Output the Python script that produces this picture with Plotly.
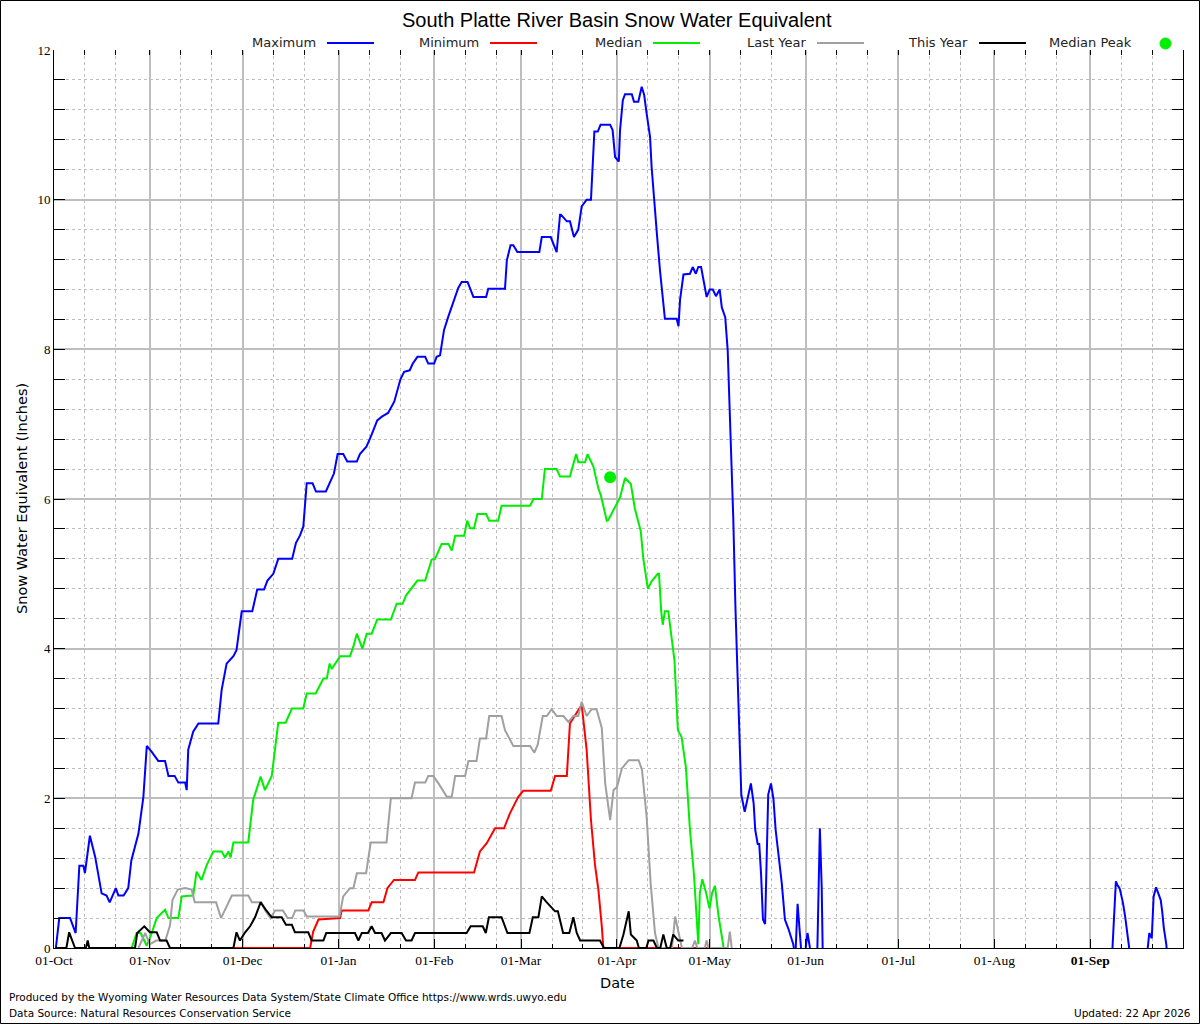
import plotly.graph_objects as go
import pandas as pd

# ---------------- data (day offsets from 01-Oct, SWE inches) ----------------
SEASON_START = "2025-10-01"
SEASON_END = "2026-10-01"

max_days = [0.6, 1.7, 5.2, 7, 8.2, 9.5, 10, 11.6, 13.3, 15.4, 17, 18, 20, 20.8, 22.5, 24, 25, 27.3, 28.9, 30,
            31.6, 33.7, 35.9, 37, 39, 40.2, 42.4, 42.9, 43.4, 45, 46.7, 53.1, 54.2, 55.8, 58, 59, 60.7, 64.1,
            65.7, 67.9, 69, 70.9, 72.5, 77, 78.2, 79.5, 80.6, 81.7, 83.6, 84.7, 87.9, 89, 90.5, 91.7, 93.5,
            94.8, 97.9, 98.9, 101, 102.4, 103.2, 104.5, 106, 108, 110, 112, 113.2, 115, 116, 117.5, 120, 121,
            122.9, 123.7, 124.8, 126.1, 127.5, 129.3, 130.7, 131.8, 133.7, 135.6, 139.7, 140.4, 145.8, 146.4,
            147.6, 148.5, 149.8, 156.9, 157.7, 160.6, 162.5, 163.6, 163.9, 165.8, 166.8, 168.1, 169.5, 170.6,
            172.2, 173.6, 174.2, 174.7, 175.8, 176.7, 179.8, 180.6, 181.4, 182.6, 183, 183.9, 184.6, 186.8,
            187.5, 188.9, 190, 190.8, 191.6, 192.7, 193.2, 194, 195, 195.9, 197, 197.5, 201.3, 201.9, 202.4,
            203.5, 205.6, 206.5, 207.5, 208.3, 209.2, 211, 212, 213, 214, 215.2, 215.9, 217, 217.8, 218.7,
            219.6, 220.3, 221.2, 221.7, 222.2, 223.3, 224.3, 225.3, 226.2, 226.7, 227.5, 228, 228.6, 229.2,
            229.9, 230.4, 230.9, 231.8, 232.6, 233.3, 234.2, 235.3, 236.3, 237.4, 239, 239.2,
            239.5, 239.8, 240.4, 241.5,
            242.2, 243.0, 243.6, 244.4,
            245.5, 246.8, 247.1, 247.6, 248.2, 248.5,
            300, 342.2, 342.5, 342.8, 343.3, 343.8, 344.5, 344.9, 345.6, 346.3, 346.9, 347.4, 347.6,
            350, 353.6, 353.9, 354.1, 354.9, 355.5, 356.3, 356.9, 357.8, 358.3, 358.8, 359.6, 359.7]
max_vals = [0, 0.4, 0.4, 0.2, 1.1, 1.1, 1.0, 1.5, 1.22, 0.73, 0.7, 0.61, 0.8, 0.7, 0.7, 0.8, 1.17, 1.53, 2.02, 2.7,
            2.62, 2.5, 2.5, 2.3, 2.3, 2.21, 2.21, 2.11, 2.65, 2.89, 3.0, 3.0, 3.45, 3.8, 3.9, 3.98, 4.5, 4.5,
            4.79, 4.79, 4.91, 5.0, 5.2, 5.2, 5.41, 5.51, 5.63, 6.21, 6.21, 6.1, 6.1, 6.21, 6.34, 6.6, 6.6,
            6.5, 6.5, 6.6, 6.7, 6.83, 6.92, 7.05, 7.1, 7.15, 7.3, 7.6, 7.7, 7.72, 7.81, 7.9, 7.9, 7.81,
            7.81, 7.9, 7.92, 8.26, 8.44, 8.66, 8.82, 8.9, 8.9, 8.7, 8.7, 8.81, 8.81, 9.19,
            9.39, 9.39, 9.3, 9.3, 9.5, 9.5, 9.3, 9.8, 9.8, 9.71, 9.71, 9.5, 9.6, 9.91,
            10.0, 10.0, 10.46, 10.91, 10.91, 11.0, 11.0, 10.93, 10.57, 10.51, 10.93, 11.33, 11.41, 11.41,
            11.31, 11.31, 11.51, 11.4, 11.15, 10.84, 10.44, 9.96, 9.5, 9.06, 8.66, 8.41, 8.41, 8.31, 8.66,
            9.0, 9.01, 9.1, 9.01, 9.1, 9.1, 8.7, 8.8, 8.8, 8.71, 8.8, 8.56, 8.43, 7.99, 6.94,
            5.75, 4.56, 3.36, 2.41, 2.05, 1.82, 1.99, 2.2, 1.93, 1.58, 1.39, 1.39, 0.98, 0.38,
            0.32, 1.22, 2.05, 2.2, 1.99, 1.58, 1.27, 0.86, 0.38, 0.26, 0.05, 0,
            None, 0, 0.59, 0,
            None, 0, 0.2, 0,
            None, 0, 0.8, 1.6, 0.8, 0,
            None, 0, 0.2, 0.46, 0.89, 0.84, 0.8, 0.73, 0.6, 0.42, 0.24, 0.06, 0,
            None, 0, 0.18, 0.2, 0.13, 0.69, 0.81, 0.75, 0.64, 0.48, 0.27, 0.05, 0]

min_days = [58, 82.8, 83.8, 85.5, 92.5, 93, 101.6, 102.7, 106.5, 107.8, 109.9, 116.7, 117.8, 135.8, 137.7,
            139.9, 142.6, 145.5, 147.4, 150.1, 151.7, 160.6, 162, 165.8, 166.8, 170.6, 172.2, 173.6, 174.9,
            176, 177.1, 177.6, 214]
min_vals = [0, 0, 0.22, 0.38, 0.4, 0.5, 0.5, 0.61, 0.61, 0.8, 0.91, 0.91, 1.01, 1.01, 1.29,
            1.4, 1.6, 1.6, 1.8, 2.02, 2.1, 2.1, 2.3, 2.3, 3.0, 3.25, 2.65, 1.71, 1.11,
            0.78, 0.29, 0, 0]

med_days = [25.1, 26.7, 28, 30, 31.6, 33.2, 35.9, 37, 40.2, 41.3, 45, 46.1, 47.7, 49.4, 51.5, 54.2, 55.3, 56.4,
            57.1, 58, 62.8, 64.4, 66.8, 68.2, 70.4, 72.5, 74.9, 76.9, 80.6, 81.7, 84.6, 87.1, 88.2, 89.1,
            89.8, 90.8, 92.5, 95.7, 96.8, 97.9, 99.7, 101.1, 102.7, 104.5, 108.9, 110.8, 112.7, 113.8, 115.6,
            117.5, 120, 122.1, 123.2, 125.3, 127.5, 128.6, 129.7, 132.6, 133.6, 134.5, 135.8, 136.9, 139.7,
            140.7, 143.6, 144.7, 153.9, 155, 157.7, 158.7, 162.5, 163.6, 166.8, 168.8, 169.5, 171.7, 172.5,
            174.4, 176, 176.8, 178.7, 179.2, 183, 184.6, 186.5, 187.8, 189.7, 190.5, 192, 193.2, 195.2,
            195.6, 196.3, 196.8, 197.5, 198.6, 199.5, 200.6, 201.7, 202.9, 204.3, 205.6, 206.9, 207.8,
            208.3, 208.8, 209.6, 210.8, 211.9, 212.8, 213.7, 214.8, 215.9, 216.5]
med_vals = [0, 0.2, 0.2, 0.03, 0.2, 0.4, 0.51, 0.4, 0.4, 0.69, 0.7, 1.02, 0.91, 1.11, 1.29, 1.29, 1.21, 1.29,
            1.21, 1.41, 1.41, 1.98, 2.29, 2.11, 2.3, 3.01, 3.01, 3.2, 3.2, 3.4, 3.4, 3.6, 3.6, 3.8,
            3.73, 3.8, 3.9, 3.9, 4.03, 4.2, 4.0, 4.2, 4.2, 4.39, 4.39, 4.6, 4.6, 4.71, 4.81,
            4.91, 4.91, 5.19, 5.2, 5.4, 5.4, 5.31, 5.51, 5.51, 5.71, 5.61, 5.61, 5.8, 5.8,
            5.71, 5.71, 5.91, 5.91, 6.0, 6.0, 6.4, 6.4, 6.3, 6.3, 6.6, 6.49, 6.49, 6.6,
            6.43, 6.14, 6.05, 5.71, 5.72, 6.02, 6.28, 6.2, 5.87, 5.57, 5.21, 4.8, 4.9, 5.0,
            5.0, 4.5, 4.32, 4.5, 4.5, 4.2, 3.84, 2.91, 2.82, 2.41, 1.58, 0.98, 0.41,
            0.05, 0.74, 0.92, 0.74, 0.53, 0.74, 0.83, 0.44, 0.17, 0]

last_days = [27.3, 29.5, 31, 33, 36, 37.5, 38.3, 40, 42.4, 44.5, 45.5, 52.4, 54, 56.4, 57.5, 62.8, 64, 67, 68.3,
             70, 71.5, 74, 75.5, 77, 78, 80.7, 81.7, 92.3, 93.5, 95.7, 96.8, 97.9, 100.9, 102.4, 107.5, 108.9,
             115.6, 116.7, 120, 121, 122.6, 124.3, 127, 128.6, 129.7, 132.9, 134, 136.6, 137.7, 139.7, 140.7,
             144.7, 145.8, 148.5, 153.9, 155.3, 156.4, 158, 159.3, 160.9, 162.5, 164.7, 166.3, 167.9, 169.5,
             170.6, 172.2, 173.8, 175.4, 177.1, 178.2, 179.8, 180.9, 182, 183.6, 185.8, 189, 190.1, 191.6,
             192.9, 194.3, 195.4, 199.8, 200.8, 202.4, 203, 206.3, 207.2, 208, 210.4, 211, 211.6, 217.8,
             218.5, 219.1]
last_vals = [0, 0.2, 0.05, 0.1, 0.1, 0.3, 0.64, 0.78, 0.8, 0.78, 0.61, 0.61, 0.4, 0.6, 0.7, 0.7, 0.61, 0.61, 0.5,
             0.4, 0.5, 0.5, 0.4, 0.4, 0.5, 0.5, 0.42, 0.42, 0.69, 0.8, 0.8, 1.0, 1.0, 1.41, 1.41, 2.0,
             2.0, 2.21, 2.21, 2.3, 2.3, 2.2, 2.02, 2.02, 2.3, 2.3, 2.5, 2.5, 2.8, 2.8, 3.1,
             3.1, 2.91, 2.7, 2.7, 2.61, 2.72, 3.1, 3.1, 3.19, 3.1, 3.1, 3.02, 3.1, 3.1,
             3.29, 3.1, 3.19, 3.19, 2.94, 2.2, 1.71, 2.11, 2.15, 2.4, 2.51, 2.51, 2.38, 1.75,
             0.86, 0.2, 0, 0, 0.42, 0.1, 0, 0, 0.1, 0, 0, 0.1, 0, 0,
             0.22, 0]

this_days = [0.6, 4, 4.9, 6.8, 10.3, 10.9, 11.4, 26.2, 26.9, 29.2, 31, 33.2, 34.3, 36.4, 37.5, 58, 59, 60.1,
             61.8, 63.4, 65, 66.8, 68.5, 70.4, 73.6, 75, 76.9, 77.9, 82.2, 83.3, 87.1, 88, 97.3, 98.4, 99.5,
             101.5, 102.7, 103.8, 105.9, 107, 108.9, 112.4, 113.8, 115.6, 116.7, 133.4, 134.7, 138.6, 139.6,
             140.6, 144.7, 146.6, 153.7, 154.8, 156.6, 157.7, 159.1, 160.5, 162, 162.9, 164.6, 166.6, 167.9,
             169, 170.1, 176.5, 177.8, 182.8, 184.1, 185.8, 186.5, 188.4, 189.1, 191.5, 192.2, 193.8, 194.9,
             196, 197, 198.1, 199.2, 200.2, 201.8, 203.5]
this_vals = [0, 0, 0.21, 0, 0, 0.1, 0, 0, 0.2, 0.29, 0.21, 0.21, 0.1, 0.1, 0, 0, 0.21, 0.1,
             0.21, 0.29, 0.41, 0.61, 0.51, 0.41, 0.41, 0.31, 0.31, 0.21, 0.21, 0.1, 0.1, 0.2, 0.2, 0.1, 0.2,
             0.2, 0.29, 0.2, 0.2, 0.1, 0.2, 0.2, 0.1, 0.1, 0.2, 0.2, 0.29, 0.29, 0.2,
             0.41, 0.41, 0.2, 0.2, 0.41, 0.41, 0.69, 0.62, 0.55, 0.49, 0.49, 0.2, 0.2, 0.41,
             0.2, 0.1, 0.1, 0, 0, 0.18, 0.49, 0.18, 0.1, 0, 0, 0.1, 0.1, 0,
             0, 0.18, 0, 0, 0.18, 0.1, 0.1]

peak_day = [179.8]
peak_val = [6.29]

month_ticks = ["2025-10-01", "2025-11-01", "2025-12-01", "2026-01-01", "2026-02-01", "2026-03-01",
               "2026-04-01", "2026-05-01", "2026-06-01", "2026-07-01", "2026-08-01", "2026-09-01"]
month_labels = ["01-Oct", "01-Nov", "01-Dec", "01-Jan", "01-Feb", "01-Mar",
                "01-Apr", "01-May", "01-Jun", "01-Jul", "01-Aug", "<b>01-Sep</b>"]
y_ticks = [0, 2, 4, 6, 8, 10, 12]

series_names = ["Maximum", "Minimum", "Median", "Last Year", "This Year"]
series_colors = ["#0000ff", "#ff0000", "#00ee00", "#a0a0a0", "#000000"]
peak_color = "#00ee00"

# ---------------- helpers ----------------
start = pd.Timestamp(SEASON_START)


def to_dates(days):
    return [start + pd.Timedelta(days=d) for d in days]


minor_ticks = []
for m in month_ticks:
    t = pd.Timestamp(m)
    minor_ticks += [t + pd.Timedelta(days=10), t + pd.Timedelta(days=20)]

# plot-area pixel geometry (for layout decorations)
L, R, T, B = 54, 1183, 50, 948


def px(x):
    return (x - L) / (R - L)


def py(y):
    return (B - y) / (B - T)


fig = go.Figure()
all_days = [max_days, min_days, med_days, last_days, this_days]
all_vals = [max_vals, min_vals, med_vals, last_vals, this_vals]
for name, color, d, v in zip(series_names, series_colors, all_days, all_vals):
    fig.add_trace(go.Scatter(x=to_dates(d), y=v, mode="lines", name=name,
                             line=dict(color=color, width=2), connectgaps=False,
                             showlegend=False))
fig.add_trace(go.Scatter(x=to_dates(peak_day), y=peak_val, mode="markers", name="Median Peak",
                         marker=dict(color=peak_color, size=12), showlegend=False))
# helper trace for top mirrored ticks
fig.add_trace(go.Scatter(x=[start], y=[None], xaxis="x2", showlegend=False, hoverinfo="skip"))

grid_col = "#bebebe"
fig.update_layout(
    width=1200, height=1024,
    margin=dict(l=L, r=1200 - R, t=T, b=1024 - B),
    paper_bgcolor="white", plot_bgcolor="white",
    showlegend=False,
    xaxis=dict(type="date", range=[SEASON_START, SEASON_END],
               tickmode="array", tickvals=month_ticks, ticktext=month_labels,
               ticks="inside", ticklen=9, tickcolor="black", tickwidth=1,
               showline=True, linecolor="black", linewidth=1,
               showgrid=True, gridcolor=grid_col, gridwidth=2, zeroline=False,
               tickfont=dict(family="Liberation Serif", size=13.5, color="black"),
               minor=dict(tickmode="array", tickvals=minor_ticks, ticks="inside", ticklen=4,
                          tickcolor="black", showgrid=True, gridcolor=grid_col,
                          griddash="3px,3px", gridwidth=1)),
    xaxis2=dict(type="date", range=[SEASON_START, SEASON_END], overlaying="x", side="top",
                matches="x", anchor="y",
                tickmode="array", tickvals=month_ticks, showticklabels=False,
                ticks="inside", ticklen=5, tickcolor="black",
                showline=False, showgrid=False, zeroline=False,
                minor=dict(tickmode="array", tickvals=minor_ticks, ticks="inside", ticklen=5,
                           tickcolor="black", showgrid=False)),
    yaxis=dict(range=[0, 12], tickmode="array", tickvals=y_ticks,
               ticks="inside", ticklen=11, tickcolor="black",
               showline=True, linecolor="black", linewidth=1, mirror="allticks",
               showgrid=True, gridcolor=grid_col, gridwidth=2, zeroline=False,
               tickfont=dict(family="Liberation Serif", size=13, color="black"),
               minor=dict(tick0=0, dtick=0.4, ticks="inside", ticklen=5, tickcolor="black",
                          showgrid=True, gridcolor=grid_col, griddash="3px,3px", gridwidth=1)),
)

ann = []
ann.append(dict(text="South Platte River Basin Snow Water Equivalent", x=px(617), y=py(20),
                xref="paper", yref="paper", showarrow=False, xanchor="center", yanchor="middle",
                font=dict(family="Liberation Sans", size=20, color="black")))
ann.append(dict(text="Date", x=px(617), y=py(983), xref="paper", yref="paper", showarrow=False,
                xanchor="center", yanchor="middle",
                font=dict(family="DejaVu Sans", size=14.5, color="black")))
ann.append(dict(text="Snow Water Equivalent (Inches)", x=px(22), y=py(499), xref="paper", yref="paper",
                showarrow=False, textangle=-90, xanchor="center", yanchor="middle",
                font=dict(family="DejaVu Sans", size=14.5, color="black")))
ann.append(dict(text="Produced by the Wyoming Water Resources Data System/State Climate Office https://www.wrds.uwyo.edu",
                x=px(7), y=py(997), xref="paper", yref="paper", showarrow=False,
                xanchor="left", yanchor="middle", font=dict(family="DejaVu Sans", size=10.5, color="black")))
ann.append(dict(text="Data Source: Natural Resources Conservation Service",
                x=px(7), y=py(1013), xref="paper", yref="paper", showarrow=False,
                xanchor="left", yanchor="middle", font=dict(family="DejaVu Sans", size=10.5, color="black")))
ann.append(dict(text="Updated: 22 Apr 2026",
                x=px(1193), y=py(1013), xref="paper", yref="paper", showarrow=False,
                xanchor="right", yanchor="middle", font=dict(family="DejaVu Sans", size=10.5, color="black")))

shapes = []
# legend
leg_text_right = [318, 481, 644, 808, 970]
for name, color, xr in zip(series_names, series_colors, leg_text_right):
    ann.append(dict(text=name, x=px(xr), y=py(43), xref="paper", yref="paper", showarrow=False,
                    xanchor="right", yanchor="middle",
                    font=dict(family="DejaVu Sans", size=13, color="#222222")))
    shapes.append(dict(type="line", xref="paper", yref="paper", x0=px(xr + 9), x1=px(xr + 56),
                       y0=py(43), y1=py(43), line=dict(color=color, width=2)))
ann.append(dict(text="Median Peak", x=px(1134), y=py(43), xref="paper", yref="paper", showarrow=False,
                xanchor="right", yanchor="middle",
                font=dict(family="DejaVu Sans", size=13, color="#222222")))
shapes.append(dict(type="circle", xref="paper", yref="paper", x0=px(1160), x1=px(1171),
                   y0=py(49), y1=py(38), fillcolor=peak_color, line=dict(color=peak_color, width=1)))
# outer frame
shapes.append(dict(type="rect", xref="paper", yref="paper", x0=px(0.5), x1=px(1199.5),
                   y0=py(1023.5), y1=py(0.5), line=dict(color="black", width=1)))

fig.update_layout(annotations=ann, shapes=shapes)
fig.write_html("out.html", config={"displayModeBar": False},
               post_script="document.body.style.margin='0';")
